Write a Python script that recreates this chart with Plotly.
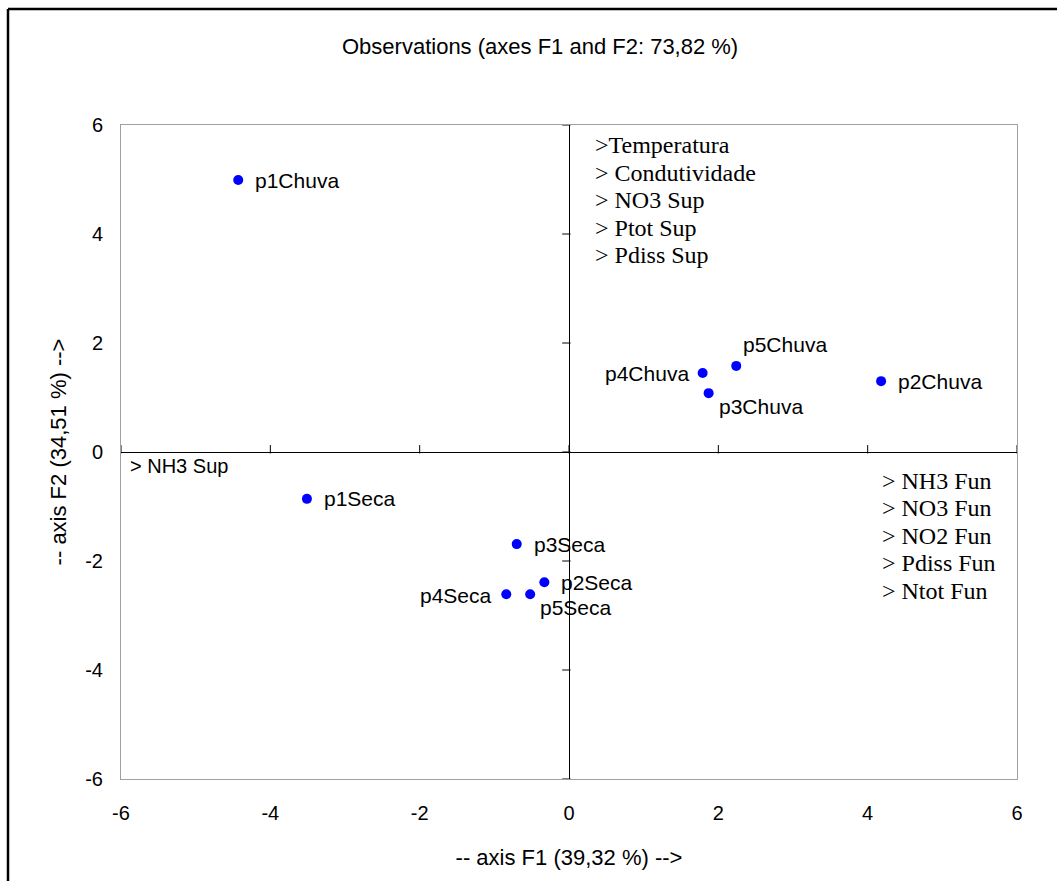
import plotly.graph_objects as go

# Observations (PCA scores)
labels = ["p1Chuva", "p2Chuva", "p3Chuva", "p4Chuva", "p5Chuva",
          "p1Seca", "p2Seca", "p3Seca", "p4Seca", "p5Seca"]
f1 = [-4.43, 4.18, 1.87, 1.79, 2.24, -3.51, -0.33, -0.70, -0.84, -0.52]
f2 = [4.99, 1.30, 1.08, 1.45, 1.58, -0.86, -2.39, -1.69, -2.61, -2.61]
label_side = ["right", "right", "below-right", "left", "above-right",
              "right", "right", "right", "left", "below-right"]

tick_vals = [-6, -4, -2, 0, 2, 4, 6]
tick_text = ["-6", "-4", "-2", "0", "2", "4", "6"]

upper_vars = [">Temperatura", "> Condutividade", "> NO3 Sup", "> Ptot Sup", "> Pdiss Sup"]
lower_vars = ["> NH3 Fun", "> NO3 Fun", "> NO2 Fun", "> Pdiss Fun", "> Ntot Fun"]
left_var = "> NH3 Sup"

title = "Observations (axes F1 and F2: 73,82 %)"
xtitle = "-- axis F1 (39,32 %) -->"
ytitle = "-- axis F2 (34,51 %) -->"

W, H = 1057, 881
ml, mr, mt, mb = 121, 40, 125, 102
pw, ph = W - ml - mr, H - mt - mb

SANS = "Liberation Sans, Arial"
SERIF = "Liberation Serif, Times New Roman"

side_style = {
    "right": dict(xanchor="left", yanchor="middle", xshift=15, yshift=0),
    "left": dict(xanchor="right", yanchor="middle", xshift=-12, yshift=-1),
    "below-right": dict(xanchor="left", yanchor="middle", xshift=8, yshift=-13),
    "above-right": dict(xanchor="left", yanchor="middle", xshift=5, yshift=21),
}

fig = go.Figure()

# tick marks on the central axes
fig.add_trace(go.Scatter(x=tick_vals, y=[0.05] * len(tick_vals), mode="markers",
                         marker=dict(symbol="line-ns-open", size=6, color="black",
                                     line=dict(width=1, color="black")),
                         hoverinfo="skip", showlegend=False))
fig.add_trace(go.Scatter(x=[-0.035] * len(tick_vals), y=tick_vals, mode="markers",
                         marker=dict(symbol="line-ew-open", size=6, color="black",
                                     line=dict(width=1, color="black")),
                         hoverinfo="skip", showlegend=False))

fig.add_trace(go.Scatter(
    x=f1, y=f2, mode="markers",
    marker=dict(color="#0000FF", size=10), showlegend=False, cliponaxis=False))

annotations = []
for lab, xv, yv, side in zip(labels, f1, f2, label_side):
    annotations.append(dict(text=lab, x=xv, y=yv, xref="x", yref="y", showarrow=False,
                            font=dict(family=SANS, size=21, color="black"),
                            **side_style[side]))

annotations.append(dict(text=title, xref="paper", yref="paper",
                        x=(540 - ml) / pw, y=(H - mb - 46) / ph, showarrow=False,
                        font=dict(family=SANS, size=22, color="black"),
                        xanchor="center", yanchor="middle"))

for i, t in enumerate(upper_vars):
    annotations.append(dict(text=t, x=0.32, y=5.63 - i * 0.505, xref="x", yref="y",
                            showarrow=False, xanchor="left", yanchor="middle",
                            font=dict(family=SERIF, size=24, color="black")))
for i, t in enumerate(lower_vars):
    annotations.append(dict(text=t, x=4.17, y=-0.53 - i * 0.505, xref="x", yref="y",
                            showarrow=False, xanchor="left", yanchor="middle",
                            font=dict(family=SERIF, size=24, color="black")))
annotations.append(dict(text=left_var, x=-5.9, y=-0.26, xref="x", yref="y",
                        showarrow=False, xanchor="left", yanchor="middle",
                        font=dict(family=SANS, size=20, color="black")))

# outer frame (top and left edges visible)
shapes = [
    dict(type="line", xref="paper", yref="paper", x0=(8 - ml) / pw, x1=(W + 10 - ml) / pw,
         y0=(H - mb - 9) / ph, y1=(H - mb - 9) / ph, line=dict(color="black", width=2.5)),
    dict(type="line", xref="paper", yref="paper", x0=(8 - ml) / pw, x1=(8 - ml) / pw,
         y0=(H - mb - 9) / ph, y1=-(mb + 10) / ph, line=dict(color="black", width=2.5)),
]

axis_common = dict(range=[-6, 6], tickvals=tick_vals, ticktext=tick_text, showgrid=False,
                   zeroline=True, zerolinecolor="black", zerolinewidth=1,
                   showline=True, linecolor="#a0a0a0", linewidth=1, mirror=True,
                   ticks="outside", tickcolor="rgba(0,0,0,0)",
                   tickfont=dict(family=SANS, size=20, color="black"),
                   fixedrange=True)

fig.update_layout(
    width=W, height=H,
    margin=dict(l=ml, r=mr, t=mt, b=mb),
    paper_bgcolor="white", plot_bgcolor="white",
    xaxis=dict(**axis_common, ticklen=16,
               title=dict(text=xtitle, standoff=26,
                          font=dict(family=SANS, size=22, color="black"))),
    yaxis=dict(**axis_common, ticklen=13,
               title=dict(text=ytitle, standoff=12,
                          font=dict(family=SANS, size=22, color="black"))),
    annotations=annotations, shapes=shapes,
)

fig.write_html("out.html")
